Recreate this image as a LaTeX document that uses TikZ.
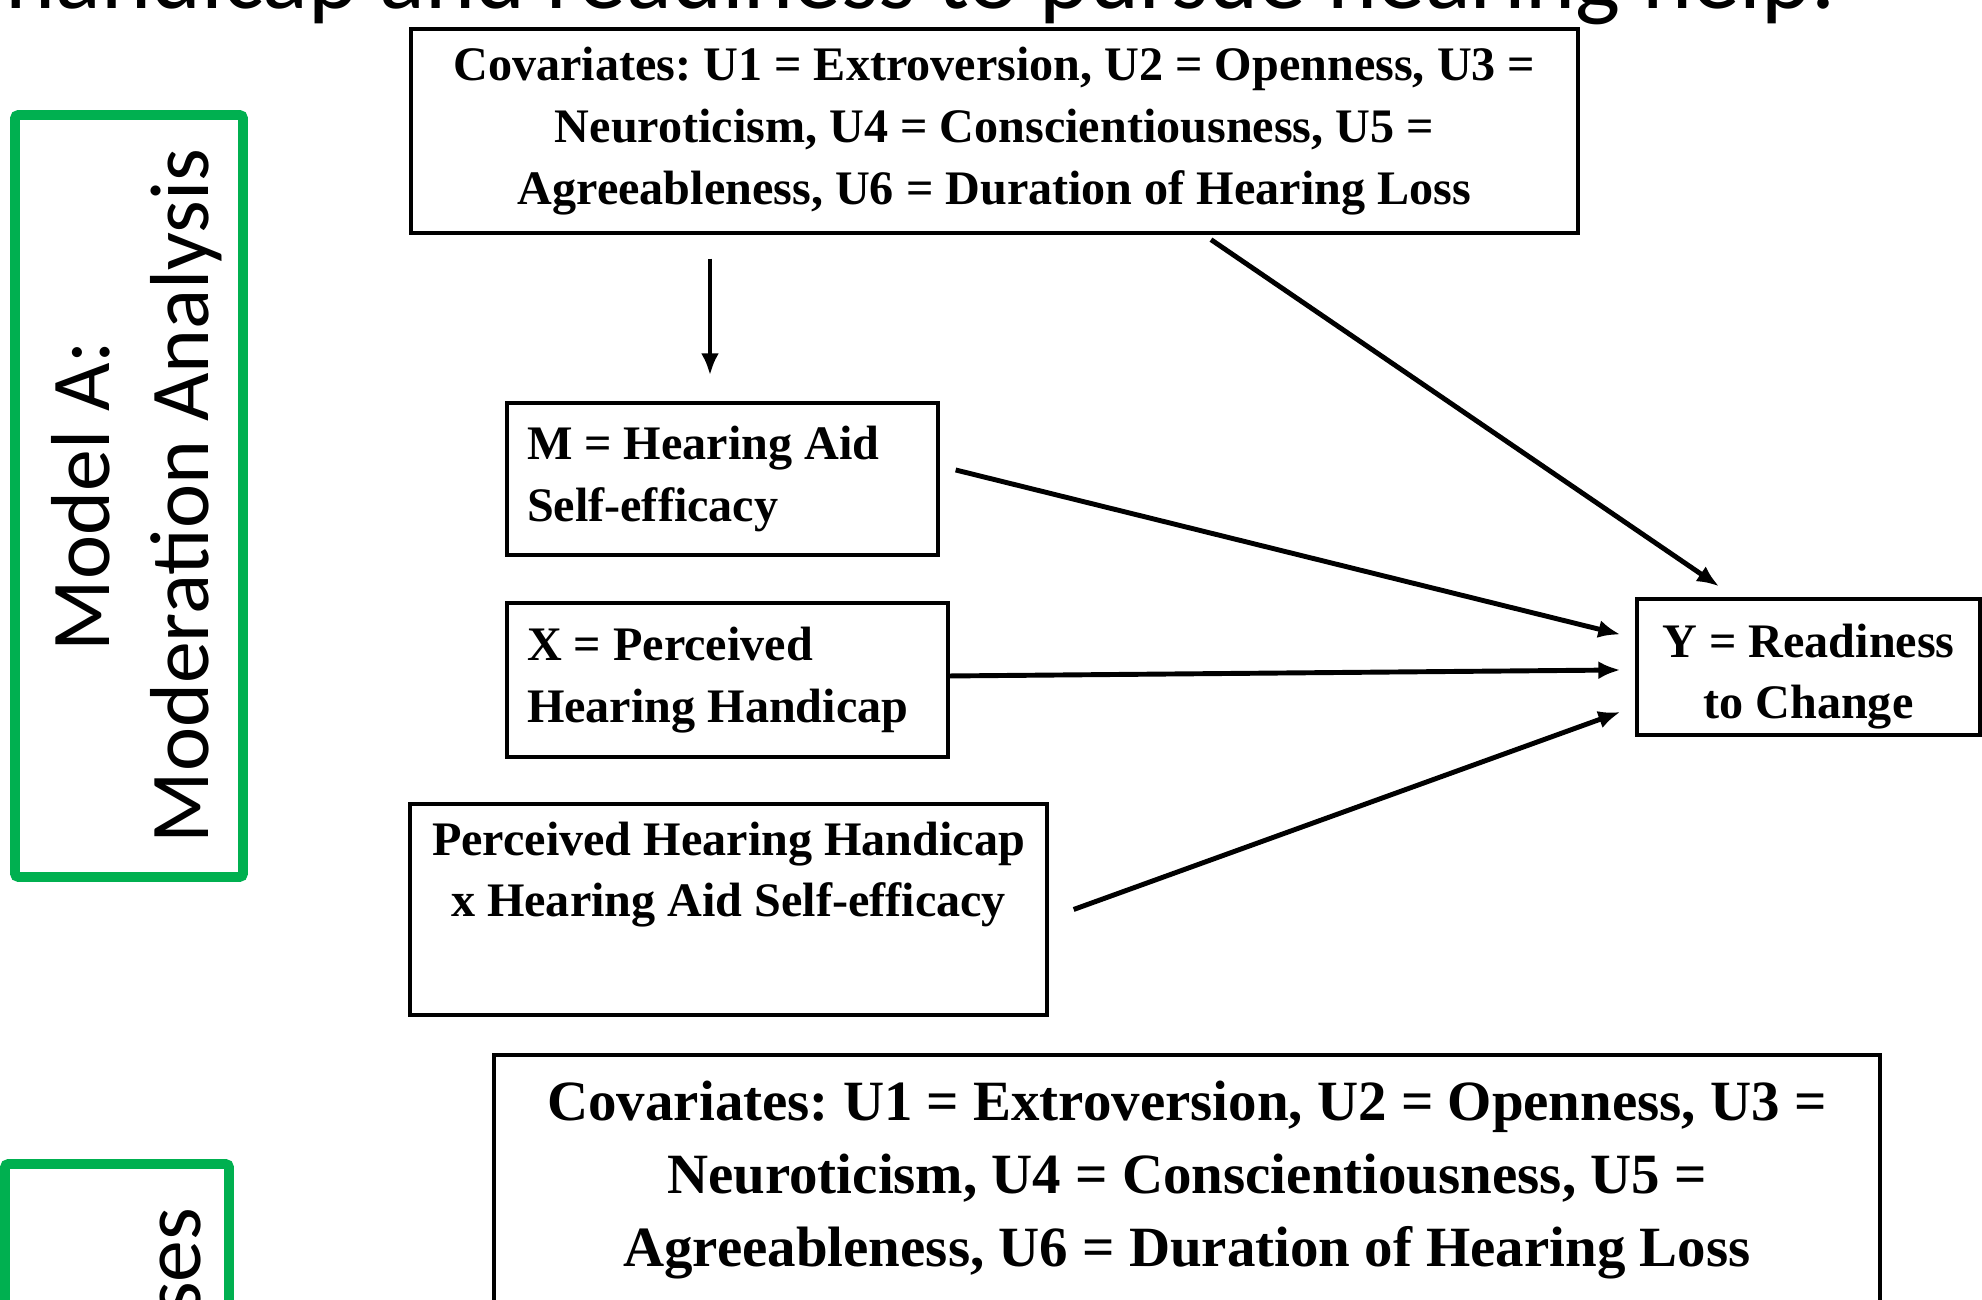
\documentclass[tikz,border=0pt]{standalone}
\usepackage{fontspec}
\setmainfont{Liberation Serif}
\newfontfamily\calibri{Carlito}
\usepackage{xcolor}
\usetikzlibrary{positioning,calc,arrows.meta}
\definecolor{slidegreen}{HTML}{00B050}
\frenchspacing

\begin{document}
\begin{tikzpicture}[
    varbox/.style={draw, line width=0.95pt, inner xsep=0.2cm, inner ysep=0.1cm, font=\bfseries\fontsize{13.7}{17.6}\selectfont},
    conn/.style={-{Latex[length=0.22cm,width=0.18cm]}, line width=1.4pt},
    modelbox/.style={draw=slidegreen, line width=2.8pt, rounded corners=1pt, rotate=90, minimum width=7.62cm, minimum height=2.28cm},
    modeltext/.style={rotate=90, align=center, inner sep=0, font=\calibri\fontsize{23.8}{28.2}\selectfont}
]
    \useasboundingbox (0,0) rectangle (19.82,13);

    % Title, cut by the top edge
    \node[anchor=base west, inner sep=0, font=\calibri\fontsize{27.1}{32}\selectfont] (title) at (0.05,12.91) {handicap and readiness to pursue hearing help.};

    % Model labels
    \node[modelbox] (modA) at (1.29,8.04) {};
    \node[modeltext] (modAtext) at ([xshift=0.08cm]modA.center) {Model A:\\ Moderation Analysis};
    \node[modelbox, minimum height=2.24cm] (modB) at (1.17,-2.45) {};
    \node[modeltext, anchor=base east] (modBtext) at (2.00,0.93) {ses};

    % Model A boxes
    \node[varbox, align=center, minimum width=11.67cm, minimum height=2.04cm] (covA) at (9.945,11.69) {Covariates: U1 = Extroversion, U2 = Openness, U3 =\\ Neuroticism, U4 = Conscientiousness, U5 =\\ Agreeableness, U6 = Duration of Hearing Loss};
    \node[varbox, align=flush left, text width=3.91cm, minimum height=1.52cm] (m) at (7.225,8.21) {M = Hearing Aid\\ Self-efficacy};
    \node[varbox, align=flush left, text width=4.01cm, minimum height=1.54cm] (xA) at (7.275,6.20) {X = Perceived\\ Hearing Handicap};
    \node[varbox, align=center, minimum width=6.37cm, minimum height=2.11cm] (xm) at (7.285,3.905) {Perceived Hearing Handicap\\ x Hearing Aid Self-efficacy\\ \strut};
    \node[varbox, align=center, inner ysep=0.02cm, minimum width=3.43cm, minimum height=1.36cm] (yA) at (18.085,6.33) {\rule{0pt}{15pt}Y = Readiness\\ to Change};

    % Model A paths
    \draw[conn, shorten <=0.24cm, shorten >=0.26cm] ([xshift=-0.125cm]m.north |- covA.south) -- ([xshift=-0.125cm]m.north);
    \draw[conn] ([xshift=2.165cm, yshift=-0.05cm]covA.south) -- ([xshift=-0.895cm, yshift=0.11cm]yA.north);
    \draw[conn] ([xshift=0.16cm, yshift=0.09cm]m.east) -- ([xshift=-0.15cm, yshift=0.325cm]yA.west);
    \draw[conn] ([yshift=0.04cm]xA.east) -- ([xshift=-0.15cm, yshift=-0.03cm]yA.west);
    \draw[conn] ([xshift=0.25cm]xm.east) -- ([xshift=-0.15cm, yshift=-0.45cm]yA.west);

    % Covariates of the next model
    \node[varbox, align=center, minimum width=13.86cm, minimum height=2.5cm, font=\bfseries\fontsize{16.2}{20.8}\selectfont] (covB) at (11.87,1.20) {Covariates: U1 = Extroversion, U2 = Openness, U3 =\\ Neuroticism, U4 = Conscientiousness, U5 =\\ Agreeableness, U6 = Duration of Hearing Loss};
\end{tikzpicture}
\end{document}
